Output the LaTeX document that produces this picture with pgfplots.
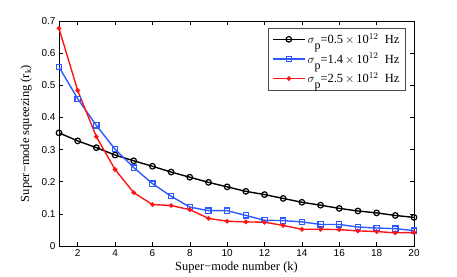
\documentclass[border=0pt]{standalone}
\usepackage{fontspec}
\setmainfont{Liberation Serif}
\newfontfamily\ticksfont{Liberation Sans}
\usepackage{pgfplots}
\pgfplotsset{compat=1.18}
\definecolor{mblue}{RGB}{45,90,255}
\definecolor{mred}{RGB}{255,20,20}
\newcommand{\sigp}{$\sigma$\raisebox{-6bp}{\fontsize{12}{12}\selectfont p}}
\begin{document}
\begin{tikzpicture}
\path[use as bounding box] (0,0) rectangle (457bp,277bp);
\begin{axis}[
  at={(59bp,31bp)}, anchor=south west,
  scale only axis, width=355bp, height=225bp,
  xmin=1, xmax=20, ymin=0, ymax=0.7,
  xtick={2,4,...,20}, ytick={0,0.1,...,0.7},
  yticklabel style={/pgf/number format/fixed,/pgf/number format/precision=1},
  /pgf/number format/assume math mode=true,
  tick label style={font=\ticksfont\fontsize{10}{11}\selectfont},
  tick align=inside, tick pos=both,
  major tick length=4bp,
  every tick/.style={black, line width=0.5pt},
  axis line style={line width=0.6pt},
  xlabel={Super\textminus mode number (k)},
  ylabel={Super\textminus mode squeezing (r$_\mathrm{k}$)},
  label style={font=\fontsize{12.5}{13}\selectfont},
  xlabel style={yshift=2bp},
  ylabel style={yshift=3bp},
  legend style={at={(0.975,0.97)}, anchor=north east, draw=black!70, line width=0.6pt,
    font=\fontsize{12.5}{13}\selectfont, row sep=4bp, inner sep=3.5pt},
  legend cell align=left,
  legend image code/.code={\draw[mark repeat=2,mark phase=2,#1] plot coordinates {(0bp,0bp) (16bp,0bp) (32bp,0bp)};},
]
\addplot[black, line width=1.4pt, mark=o, mark size=2.8pt, mark options={line width=1.2pt}] coordinates {
(1,0.352)(2,0.327)(3,0.306)(4,0.283)(5,0.265)(6,0.248)(7,0.230)(8,0.214)(9,0.198)(10,0.184)
(11,0.170)(12,0.160)(13,0.148)(14,0.136)(15,0.127)(16,0.117)(17,0.109)(18,0.103)(19,0.095)(20,0.089)};
\addlegendentry{\sigp=0.5$\,\times\,$10$^{12}$\ \ Hz}
\addplot[mblue, line width=1.4pt, mark=square, mark size=2.6pt, mark options={line width=1.2pt}] coordinates {
(1,0.557)(2,0.458)(3,0.375)(4,0.301)(5,0.244)(6,0.194)(7,0.155)(8,0.121)(9,0.110)(10,0.110)
(11,0.095)(12,0.080)(13,0.079)(14,0.075)(15,0.067)(16,0.067)(17,0.059)(18,0.056)(19,0.054)(20,0.048)};
\addlegendentry{\sigp=1.4$\,\times\,$10$^{12}$\ \ Hz}
\addplot[mred, line width=1.4pt, mark=*, mark size=1.6pt] coordinates {
(1,0.677)(2,0.484)(3,0.340)(4,0.238)(5,0.166)(6,0.129)(7,0.126)(8,0.113)(9,0.086)(10,0.077)
(11,0.075)(12,0.074)(13,0.064)(14,0.052)(15,0.052)(16,0.051)(17,0.047)(18,0.045)(19,0.041)(20,0.042)};
\addlegendentry{\sigp=2.5$\,\times\,$10$^{12}$\ \ Hz}
\end{axis}
\end{tikzpicture}
\end{document}
